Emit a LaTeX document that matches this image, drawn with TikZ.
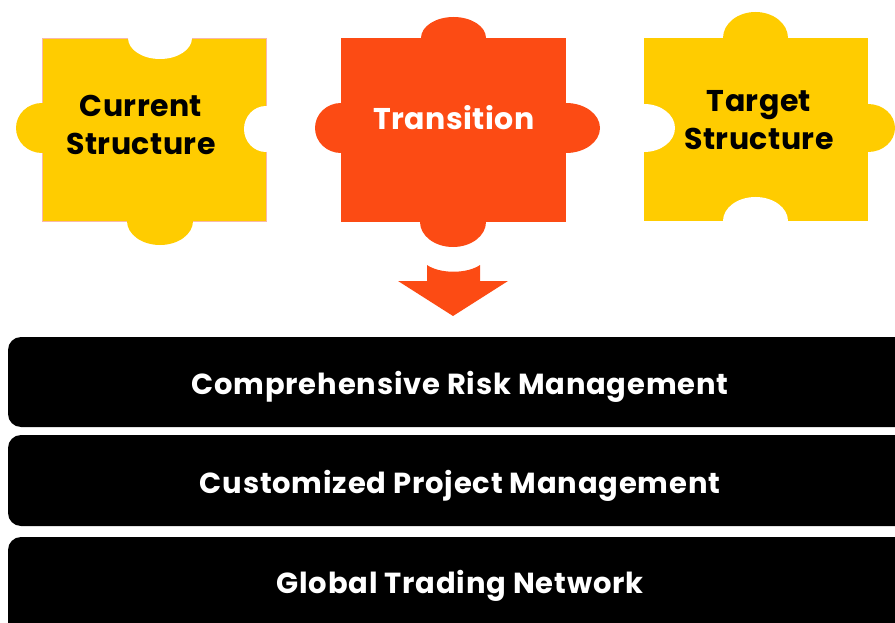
\documentclass[tikz,border=0pt]{standalone}
\usepackage{fontspec}
\setmainfont{Poppins}
\newfontfamily\toplblfont[LetterSpace=1.5]{Poppins}
\newfontfamily\barlblfont[LetterSpace=2.8]{Poppins}
\definecolor{ylw}{HTML}{FFCC00}
\definecolor{org}{HTML}{FC4B14}
\definecolor{pinkln}{HTML}{F9B8A8}
\begin{document}
\begin{tikzpicture}[x=1pt,y=-1pt,
  toplbl/.style={font=\toplblfont\bfseries\fontsize{30}{38}\selectfont, align=center, inner sep=0pt},
  barlbl/.style={font=\barlblfont\bfseries\fontsize{29}{34}\selectfont, text=white, inner sep=0pt},
  bar/.style={fill=black, rounded corners=13pt}]
\useasboundingbox (0,0) rectangle (895,623);
\begin{scope}
\clip (0,0) rectangle (895,623);
% bars
\fill[bar] (8,337) rectangle (930,427);
\fill[bar] (8,435) rectangle (930,526);
\fill[bar] (8,537) rectangle (930,660);
% Current structure piece
\fill[ylw] (42,38) rectangle (266,221);
\fill[ylw] (42,128) ellipse[x radius=26pt, y radius=25pt];
\fill[ylw] (160,221) ellipse[x radius=33pt, y radius=24pt];
\fill[white] (160,38) ellipse[x radius=32pt, y radius=21pt];
\fill[white] (266,129) ellipse[x radius=22pt, y radius=23pt];
\draw[pinkln, line width=0.8pt] (128,38) -- (42,38) -- (42,103);
\draw[pinkln, line width=0.8pt] (192,38) -- (266,38) -- (266,106);
\draw[pinkln, line width=0.8pt] (266,152) -- (266,221) -- (193,221);
\draw[pinkln, line width=0.8pt] (127,221) -- (42,221) -- (42,153);
% Transition piece
\fill[org] (341,38) rectangle (566,222);
\fill[org] (453.5,38) ellipse[x radius=32.5pt, y radius=21pt];
\fill[org] (341,128) ellipse[x radius=26pt, y radius=25pt];
\fill[org] (566,128) ellipse[x radius=34pt, y radius=25pt];
\fill[org] (453,222) ellipse[x radius=33pt, y radius=25pt];
% Target structure piece
\fill[ylw] (644,38) rectangle (868,221);
\fill[ylw] (755.5,38) ellipse[x radius=32.5pt, y radius=26pt];
\fill[ylw] (868,128) ellipse[x radius=27pt, y radius=24pt];
\fill[white] (644,128) ellipse[x radius=31pt, y radius=24pt];
\fill[white] (755.5,221) ellipse[x radius=32.5pt, y radius=24pt];
% arrow
\fill[org] (427,265) .. controls (440,274) and (467,274) .. (480,265) -- (480,281) -- (508,281) -- (453,316) -- (398,281) -- (427,281) -- cycle;
\end{scope}
% labels
\node[toplbl] (cur) at (141,125) {Current\\Structure};
\node[toplbl, text=white] (tra) at (454,118) {Transition};
\node[toplbl] (tgt) at (759,120) {Target\\Structure};
\node[barlbl] (b1) at (460,387) {Comprehensive Risk Management};
\node[barlbl] (b2) at (460,486) {Customized Project Management};
\node[barlbl] (b3) at (460,586) {Global Trading Network};
\end{tikzpicture}
\end{document}
